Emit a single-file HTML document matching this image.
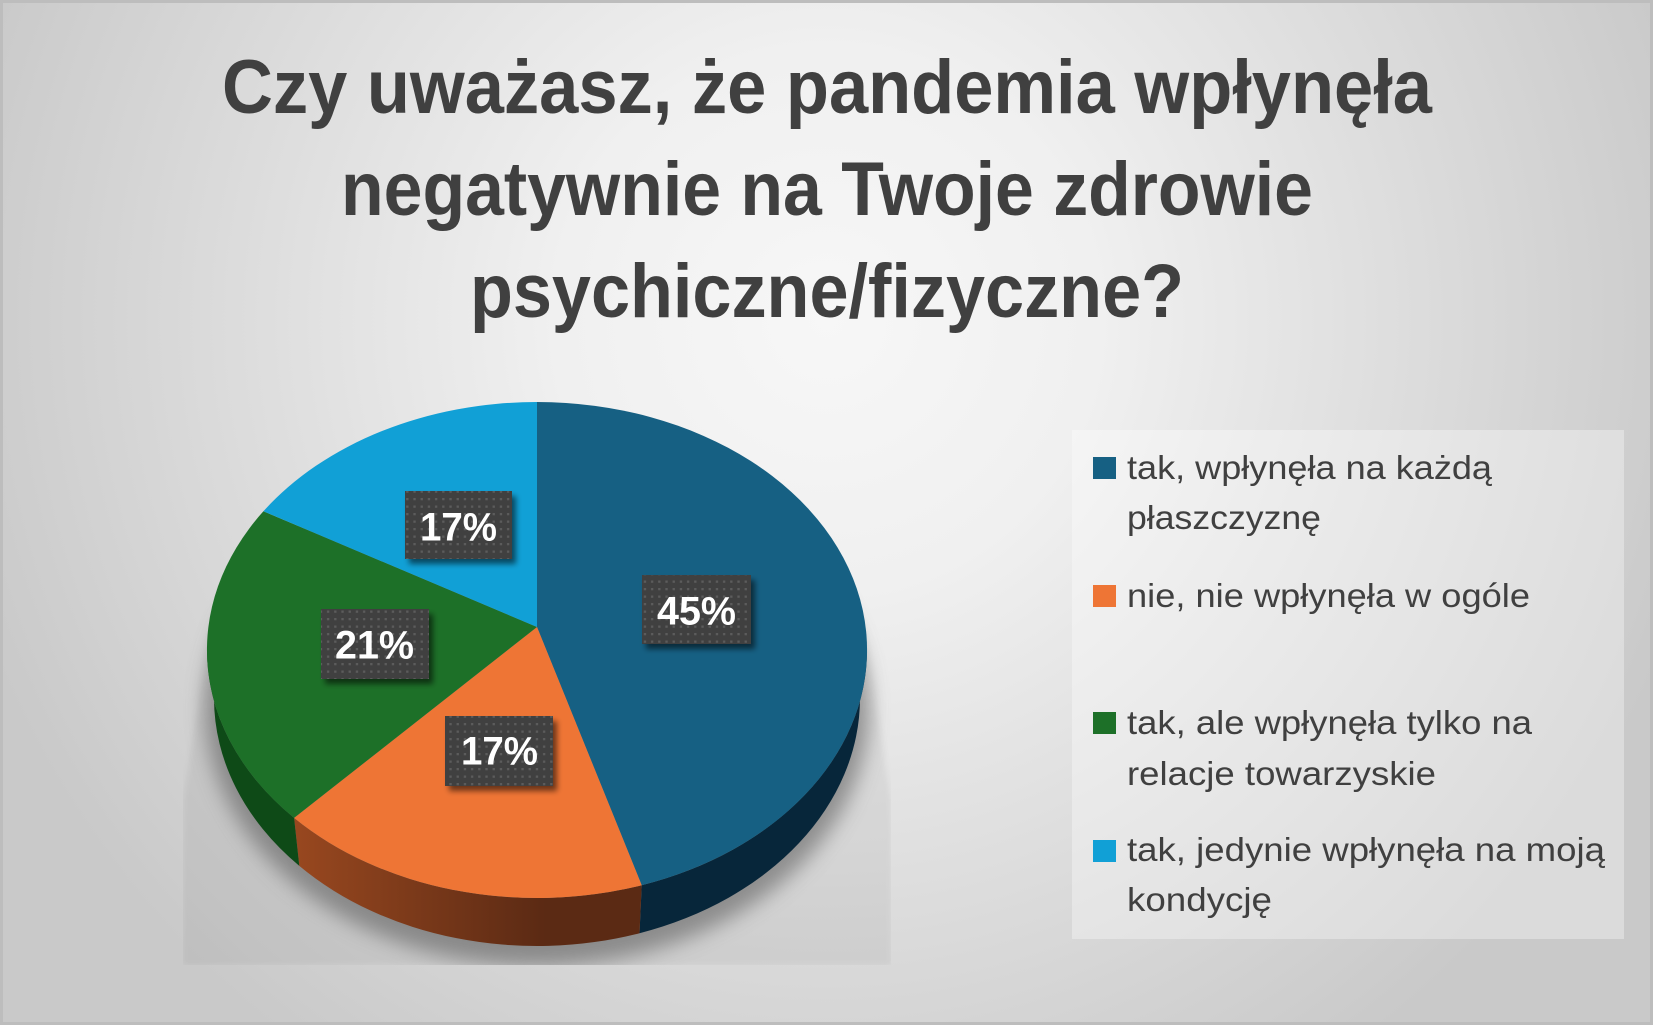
<!DOCTYPE html>
<html>
<head>
<meta charset="utf-8">
<style>
html,body{margin:0;padding:0;background:#d0d0d0;}
svg{display:block;}
</style>
</head>
<body>
<svg width="1653" height="1025" viewBox="0 0 1653 1025" xmlns="http://www.w3.org/2000/svg">
<defs>
  <radialGradient id="bg" gradientUnits="userSpaceOnUse" cx="827" cy="320" r="900">
    <stop offset="0" stop-color="#f7f7f7"/>
    <stop offset="0.3" stop-color="#f0f0f0"/>
    <stop offset="1" stop-color="#c9c9c9"/>
  </radialGradient>
  <linearGradient id="orSide" gradientUnits="userSpaceOnUse" x1="300" y1="0" x2="545" y2="0">
    <stop offset="0" stop-color="#97471f"/>
    <stop offset="1" stop-color="#5b2a14"/>
  </linearGradient>
  <linearGradient id="bandFade" gradientUnits="userSpaceOnUse" x1="0" y1="600" x2="0" y2="720">
    <stop offset="0" stop-color="#000" stop-opacity="0"/>
    <stop offset="1" stop-color="#000" stop-opacity="0.05"/>
  </linearGradient>
  <filter id="blurS" x="-20%" y="-20%" width="140%" height="140%">
    <feGaussianBlur stdDeviation="10"/>
  </filter>
  <filter id="blurL" x="-10%" y="-10%" width="120%" height="120%">
    <feGaussianBlur stdDeviation="3"/>
  </filter>
  <filter id="lblShadow" x="-20%" y="-20%" width="150%" height="150%">
    <feGaussianBlur in="SourceAlpha" stdDeviation="3"/>
    <feOffset dx="4" dy="5" result="ob"/>
    <feComponentTransfer><feFuncA type="linear" slope="0.55"/></feComponentTransfer>
    <feMerge><feMergeNode/><feMergeNode in="SourceGraphic"/></feMerge>
  </filter>
  <pattern id="dots" patternUnits="userSpaceOnUse" width="7.2" height="7.5" x="1" y="1">
    <rect width="7.2" height="7.5" fill="#404040"/>
    <rect x="2" y="2" width="2.3" height="2.3" fill="#5c5c5c"/>
  </pattern>
  <clipPath id="plotClip"><rect x="183" y="380" width="708" height="585"/></clipPath>
</defs>

<!-- background -->
<rect x="0" y="0" width="1653" height="1025" fill="url(#bg)"/>
<rect x="1.5" y="1.5" width="1650" height="1022" fill="none" stroke="#bdbdbd" stroke-width="3"/>

<!-- title -->
<g font-family="'Liberation Sans Narrow','Liberation Sans',sans-serif" font-weight="bold" font-size="76" fill="#404040" text-anchor="middle">
  <text x="827" y="113" textLength="1210" lengthAdjust="spacingAndGlyphs">Czy uważasz, że pandemia wpłynęła</text>
  <text x="827" y="215" textLength="972" lengthAdjust="spacingAndGlyphs">negatywnie na Twoje zdrowie</text>
  <text x="827" y="317" textLength="714" lengthAdjust="spacingAndGlyphs">psychiczne/fizyczne?</text>
</g>

<!-- pie shadow -->
<g clip-path="url(#plotClip)">
  <path d="M 214 600 L 861 600 L 891 800 L 891 965 L 183 965 L 183 800 Z" fill="url(#bandFade)" filter="url(#blurL)"/>
  <g filter="url(#blurS)" opacity="0.6">
    <ellipse cx="537" cy="708" rx="332" ry="258" fill="#5e5e5e"/>
  </g>
</g>

<!-- pie sides -->
<path d="M 867 650 A 330 248 0 0 1 641.7 885.2 L 639.5 933.2 A 323 248 0 0 0 860 698 Z" fill="#07263a"/>
<path d="M 641.7 885.2 A 330 248 0 0 1 294.1 817.9 L 299.3 865.9 A 323 248 0 0 0 639.5 933.2 Z" fill="url(#orSide)"/>
<path d="M 294.1 817.9 A 330 248 0 0 1 207 650 L 214 698 A 323 248 0 0 0 299.3 865.9 Z" fill="#0e4a17"/>

<!-- pie top faces -->
<path d="M 537 627 L 537 402 A 330 248 0 0 1 641.7 885.2 Z" fill="#166083"/>
<path d="M 537 627 L 641.7 885.2 A 330 248 0 0 1 294.1 817.9 Z" fill="#ee7535"/>
<path d="M 537 627 L 294.1 817.9 A 330 248 0 0 1 263.4 511.3 Z" fill="#1d7028"/>
<path d="M 537 627 L 263.4 511.3 A 330 248 0 0 1 537 402 Z" fill="#11a0d6"/>

<!-- data labels -->
<g filter="url(#lblShadow)">
  <rect x="405" y="491" width="107" height="68" fill="url(#dots)"/>
  <rect x="642" y="575" width="109" height="69" fill="url(#dots)"/>
  <rect x="321" y="609" width="108" height="70" fill="url(#dots)"/>
  <rect x="445" y="716" width="108" height="70" fill="url(#dots)"/>
</g>
<g font-family="'Liberation Sans',sans-serif" font-weight="bold" font-size="40" fill="#ffffff">
  <text x="420" y="540.5" textLength="77" lengthAdjust="spacingAndGlyphs">17%</text>
  <text x="657" y="624.5" textLength="79" lengthAdjust="spacingAndGlyphs">45%</text>
  <text x="335" y="658.5" textLength="79" lengthAdjust="spacingAndGlyphs">21%</text>
  <text x="461" y="764.5" textLength="77" lengthAdjust="spacingAndGlyphs">17%</text>
</g>

<!-- legend -->
<rect x="1072" y="430" width="552" height="509" fill="#ffffff" fill-opacity="0.33"/>
<rect x="1093" y="457" width="23" height="22" fill="#166083"/>
<rect x="1093" y="585" width="23" height="22" fill="#ee7535"/>
<rect x="1093" y="712" width="23" height="22" fill="#1d7028"/>
<rect x="1093" y="840" width="23" height="22" fill="#11a0d6"/>
<g font-family="'Liberation Sans',sans-serif" font-size="33" fill="#404040">
  <text x="1127" y="479" textLength="365" lengthAdjust="spacingAndGlyphs">tak, wpłynęła na każdą</text>
  <text x="1127" y="529" textLength="194" lengthAdjust="spacingAndGlyphs">płaszczyznę</text>
  <text x="1127" y="607" textLength="403" lengthAdjust="spacingAndGlyphs">nie, nie wpłynęła w ogóle</text>
  <text x="1127" y="734" textLength="405" lengthAdjust="spacingAndGlyphs">tak, ale wpłynęła tylko na</text>
  <text x="1127" y="785" textLength="309" lengthAdjust="spacingAndGlyphs">relacje towarzyskie</text>
  <text x="1127" y="861" textLength="478" lengthAdjust="spacingAndGlyphs">tak, jedynie wpłynęła na moją</text>
  <text x="1127" y="911" textLength="145" lengthAdjust="spacingAndGlyphs">kondycję</text>
</g>
</svg>
</body>
</html>
